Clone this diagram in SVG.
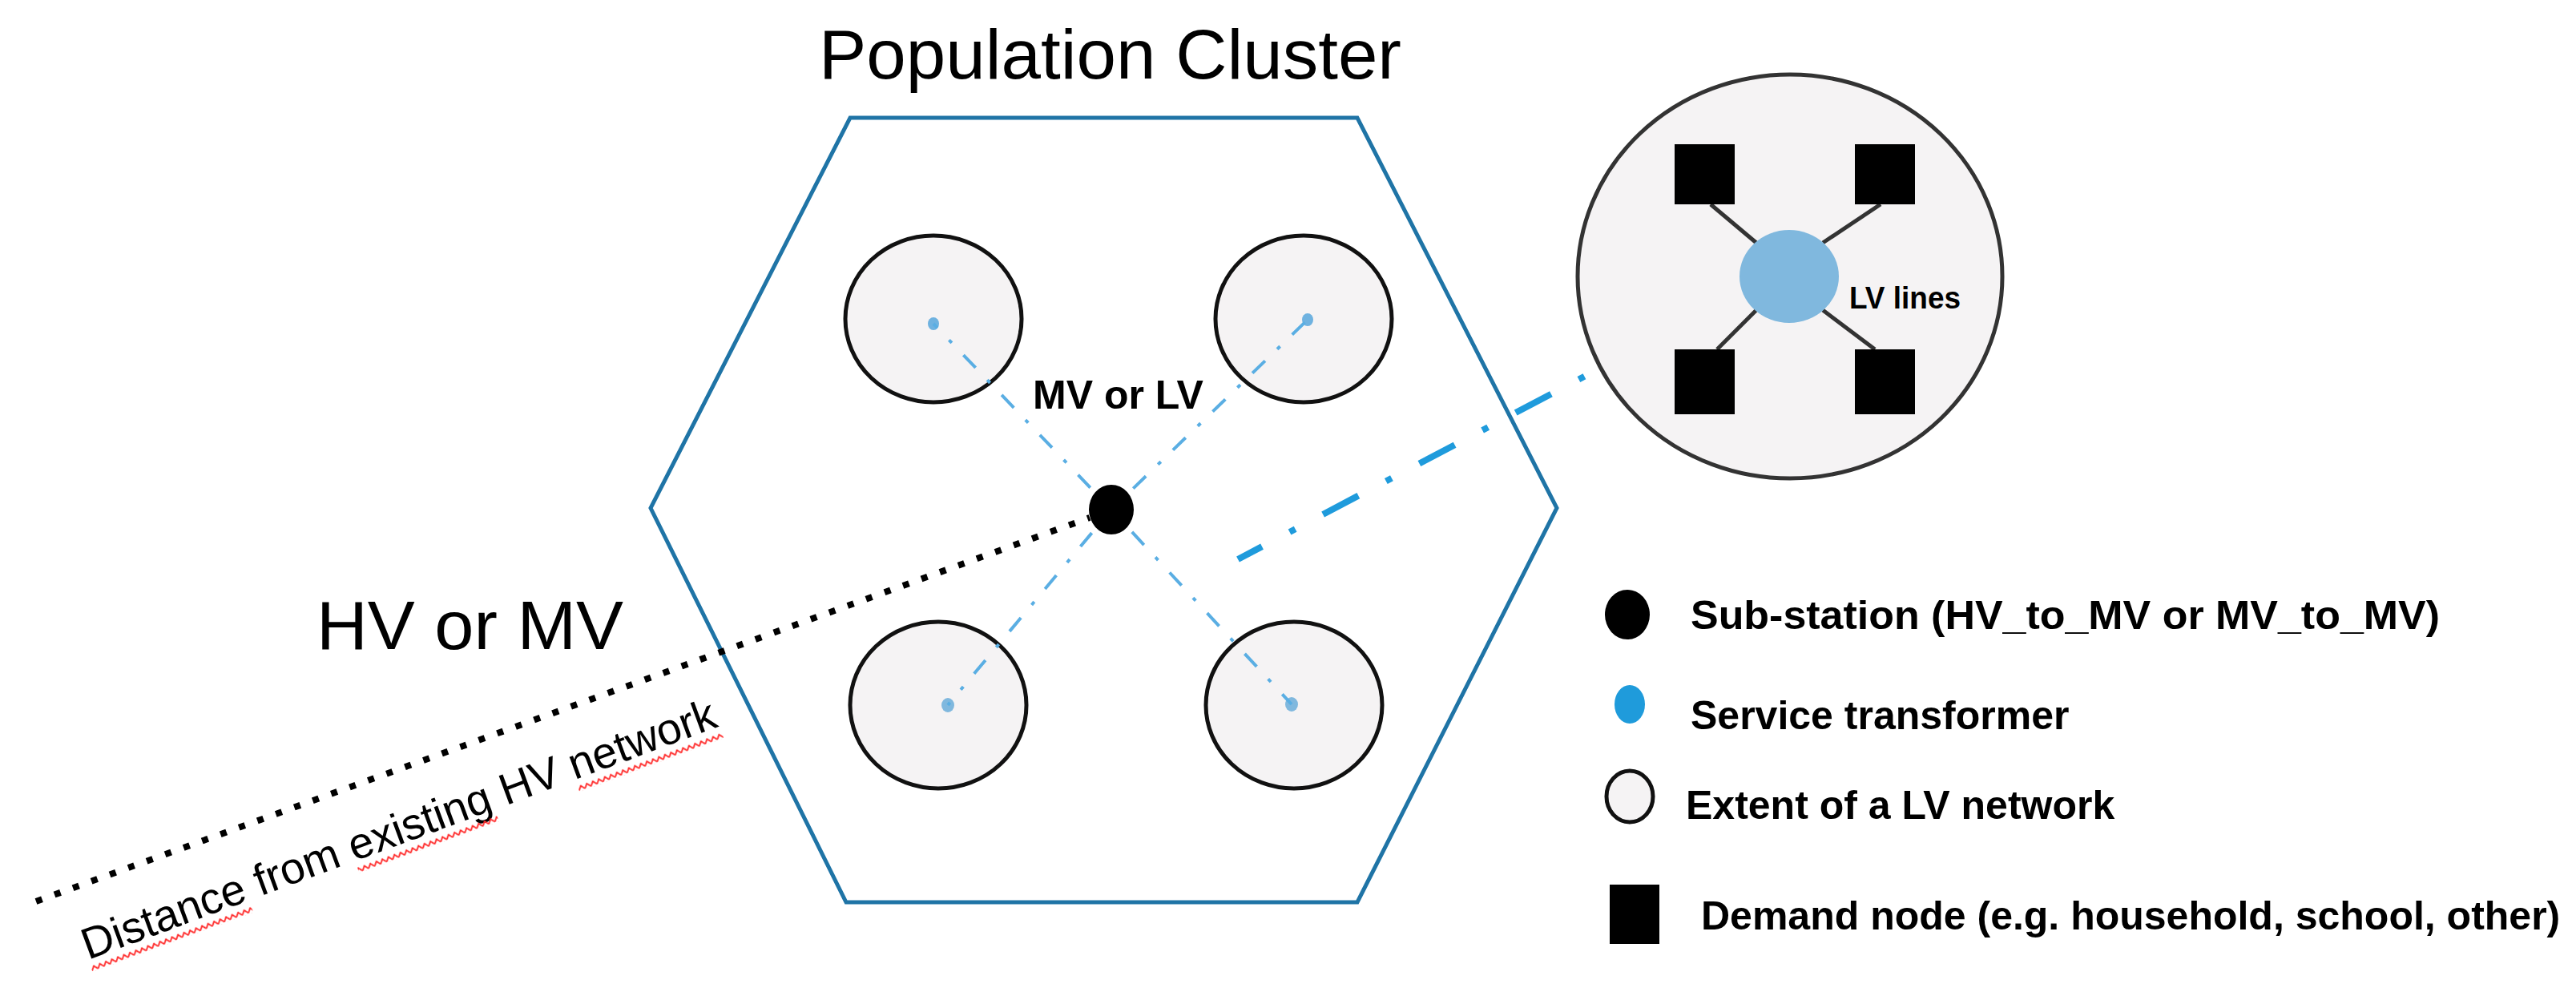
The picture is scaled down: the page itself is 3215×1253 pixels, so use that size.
<svg xmlns="http://www.w3.org/2000/svg" width="3215" height="1253" viewBox="0 0 3215 1253">
<style>
.t{font-family:"Liberation Sans",Arial,sans-serif;fill:#000}
.b{font-weight:bold}
.lv{fill:#f5f3f4;stroke:#111;stroke-width:5}
.dem{fill:#000}
.svc{stroke:#5aaee3;stroke-width:4;fill:none;stroke-dasharray:22 21 5 21}
.lvl{stroke:#333;stroke-width:5}
</style>
<defs>
<pattern id="squig" width="8" height="8" patternUnits="userSpaceOnUse">
<polyline points="0,6.5 4,1.5 8,6.5" fill="none" stroke="#ff2a2a" stroke-width="2"/>
</pattern>
</defs>
<rect width="3215" height="1253" fill="#fff"/>

<g id="cluster">
<polygon points="1061,147 1694,147 1943,634 1694,1126 1056,1126 812,634" fill="none" stroke="#1f74a6" stroke-width="5"/>
<text class="t" x="1022" y="98" font-size="88" textLength="727" lengthAdjust="spacingAndGlyphs">Population Cluster</text>
</g>

<g id="lv-networks">
<g id="lv-tl"><ellipse class="lv" cx="1165" cy="398" rx="110" ry="104"/><ellipse cx="1165" cy="404" rx="7" ry="8" fill="#6fb2e0"/></g>
<g id="lv-tr"><ellipse class="lv" cx="1627" cy="398" rx="110" ry="104"/><ellipse cx="1632" cy="399" rx="7" ry="8" fill="#6fb2e0"/></g>
<g id="lv-bl"><ellipse class="lv" cx="1171" cy="880" rx="110" ry="104"/><ellipse cx="1183" cy="880" rx="8" ry="9" fill="#80b8de"/></g>
<g id="lv-br"><ellipse class="lv" cx="1615" cy="880" rx="110" ry="104"/><ellipse cx="1612" cy="879" rx="8" ry="9" fill="#80b8de"/></g>
</g>

<g id="connectors">
<line x1="45" y1="1125" x2="1360" y2="646" stroke="#000" stroke-width="8" stroke-dasharray="8 16.5"/>
<line class="svc" x1="1387" y1="636" x2="1165" y2="404" stroke-dashoffset="31"/>
<line class="svc" x1="1387" y1="636" x2="1632" y2="399" stroke-dashoffset="31"/>
<line class="svc" x1="1387" y1="636" x2="1183" y2="880" stroke-dashoffset="31"/>
<line class="svc" x1="1387" y1="636" x2="1612" y2="879" stroke-dashoffset="31"/>
<line x1="1545" y1="698" x2="2174" y2="366" stroke="#1f9bdc" stroke-width="8" stroke-dasharray="50 39 8 39" stroke-dashoffset="16"/>
</g>

<g id="substation">
<ellipse cx="1387" cy="636" rx="28" ry="31" fill="#000"/>
<text class="t b" x="1289" y="510" font-size="50">MV or LV</text>
</g>

<g id="hv-label">
<text class="t" x="395" y="810" font-size="85" textLength="383" lengthAdjust="spacingAndGlyphs">HV or MV</text>
</g>

<g id="distance-label" transform="translate(110,1198) rotate(-20.3)">
<text class="t" x="0" y="0" font-size="55" fill="#222" textLength="840" lengthAdjust="spacingAndGlyphs">Distance from existing HV network</text>
<rect x="0" y="8" width="214" height="8" fill="url(#squig)"/>
<rect x="355" y="8" width="186" height="8" fill="url(#squig)"/>
<rect x="648" y="8" width="192" height="8" fill="url(#squig)"/>
</g>

<g id="lv-detail">
<ellipse cx="2234" cy="345" rx="265" ry="252" fill="#f5f3f4" stroke="#333" stroke-width="5"/>
<line class="lvl" x1="2135" y1="255" x2="2192" y2="303"/>
<line class="lvl" x1="2347" y1="255" x2="2275" y2="303"/>
<line class="lvl" x1="2143" y1="436" x2="2192" y2="387"/>
<line class="lvl" x1="2340" y1="436" x2="2275" y2="387"/>
<rect class="dem" x="2090" y="180" width="75" height="75"/>
<rect class="dem" x="2315" y="180" width="75" height="75"/>
<rect class="dem" x="2090" y="436" width="75" height="81"/>
<rect class="dem" x="2315" y="436" width="75" height="81"/>
<ellipse cx="2233" cy="345" rx="62" ry="58" fill="#80b8de"/>
<text class="t b" x="2308" y="385" font-size="38" fill="#3a3a3a" textLength="139" lengthAdjust="spacingAndGlyphs">LV lines</text>
</g>

<g id="legend">
<g id="leg-substation"><ellipse cx="2031" cy="767" rx="28" ry="31" fill="#000"/><text class="t b" x="2110" y="785" font-size="50" textLength="935" lengthAdjust="spacingAndGlyphs">Sub-station (HV_to_MV or MV_to_MV)</text></g>
<g id="leg-transformer"><ellipse cx="2034" cy="879" rx="19" ry="24" fill="#1f9bdb"/><text class="t b" x="2110" y="910" font-size="50">Service transformer</text></g>
<g id="leg-extent"><ellipse class="lv" cx="2034" cy="994" rx="29" ry="32"/><text class="t b" x="2104" y="1022" font-size="50">Extent of a LV network</text></g>
<g id="leg-demand"><rect class="dem" x="2009" y="1104" width="62" height="74"/><text class="t b" x="2123" y="1160" font-size="50">Demand node (e.g. household, school, other)</text></g>
</g>
</svg>
